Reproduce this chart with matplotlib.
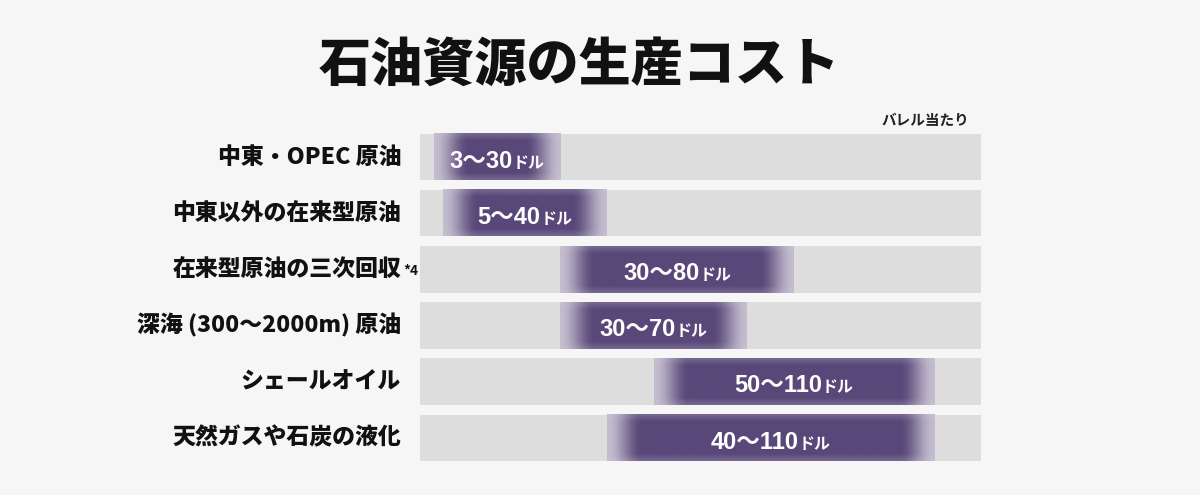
import numpy as np
import matplotlib.pyplot as plt
from matplotlib.colors import to_rgb

plt.rcParams['font.family'] = ['Noto Sans CJK JP', 'DejaVu Sans']

# データ(バレル当たりの生産コスト, ドル)
categories = ['中東・OPEC 原油', '中東以外の在来型原油', '在来型原油の三次回収',
              '深海 (300〜2000m) 原油', 'シェールオイル', '天然ガスや石炭の液化']
low = [3, 5, 30, 30, 50, 40]
high = [30, 40, 80, 70, 110, 110]
notes = ['', '', '*4', '', '', '']

bg = '#f6f6f6'
track = '#dddddd'
dark = np.array(to_rgb('#584879'))
edge = np.array(to_rgb('#cdc7d6'))

fig = plt.figure(figsize=(12, 4.95), dpi=100, facecolor=bg)
ax = fig.add_axes([0.35, 0.0586, 0.4675, 0.681])
ax.set_facecolor(bg)

n = len(categories)
y = np.arange(n)
h = 0.83
xmax = 120

ax.barh(y, xmax, left=0, height=h, color=track, zorder=1)
ax.set_xlim(0, xmax)
ax.set_ylim(n - 0.5, -0.5)

fig.canvas.draw()
renderer = fig.canvas.get_renderer()
ppu = ax.get_window_extent(renderer).width / xmax

# 端がぼやけた紫のバー
for i in range(n):
    lo, hi = low[i], high[i]
    w = hi - lo
    nx, ny = 400, 60
    xs = np.linspace(0, w, nx)
    fade = 7.5
    fx = np.clip(np.minimum(xs, w - xs) / fade, 0, 1)
    fx = fx * fx * (3 - 2 * fx)
    fx = 0.08 + 0.92 * fx
    ys = np.linspace(0, 1, ny)
    fy = np.clip(np.minimum(ys, 1 - ys) / 0.15, 0, 1)
    fy = 0.75 + 0.25 * fy
    f = np.clip(np.outer(fy, fx), 0, 1)[..., None]
    img = edge * (1 - f) + dark * f
    ax.imshow(img, extent=(lo, hi, i + h / 2, i - h / 2), aspect='auto',
              interpolation='bilinear', zorder=2)

    cx = (lo + hi) / 2
    t1 = ax.text(cx, i + 0.19, f'{lo}〜{hi}', color='white', fontsize=17,
                 fontweight='bold', ha='left', va='baseline', zorder=3,
                 family=['Liberation Sans', 'Noto Sans CJK JP'])
    t2 = ax.text(cx, i + 0.19, 'ドル', color='white', fontsize=11.5,
                 fontweight='bold', ha='left', va='baseline', zorder=3)
    w1 = t1.get_window_extent(renderer).width
    w2 = t2.get_window_extent(renderer).width
    gap = 0
    x0 = cx - (w1 + gap + w2) / 2 / ppu
    t1.set_x(x0)
    t2.set_x(x0 + (w1 + gap) / ppu)

ax.set_xticks([])
ax.set_yticks([])
for s in ax.spines.values():
    s.set_visible(False)

# カテゴリ名
for i, name in enumerate(categories):
    yy = 1 - (157 + 56.2 * i) / 495
    fig.text(401 / 1200, yy, name, fontsize=16.5, fontweight='black',
             ha='right', va='center', color='#111111')
    if notes[i]:
        fig.text(403 / 1200, yy - 0.004, notes[i], fontsize=10, fontweight='bold',
                 ha='left', va='center', color='#111111')

fig.text(579 / 1200, 1 - 65 / 495, '石油資源の生産コスト', fontsize=37.5,
         fontweight='black', ha='center', va='center', color='#111111')
fig.text(969 / 1200, 1 - 120 / 495, 'バレル当たり', fontsize=10.5,
         fontweight='bold', ha='right', va='center', color='#222222')

fig.savefig('out.png', dpi=100, facecolor=bg)
